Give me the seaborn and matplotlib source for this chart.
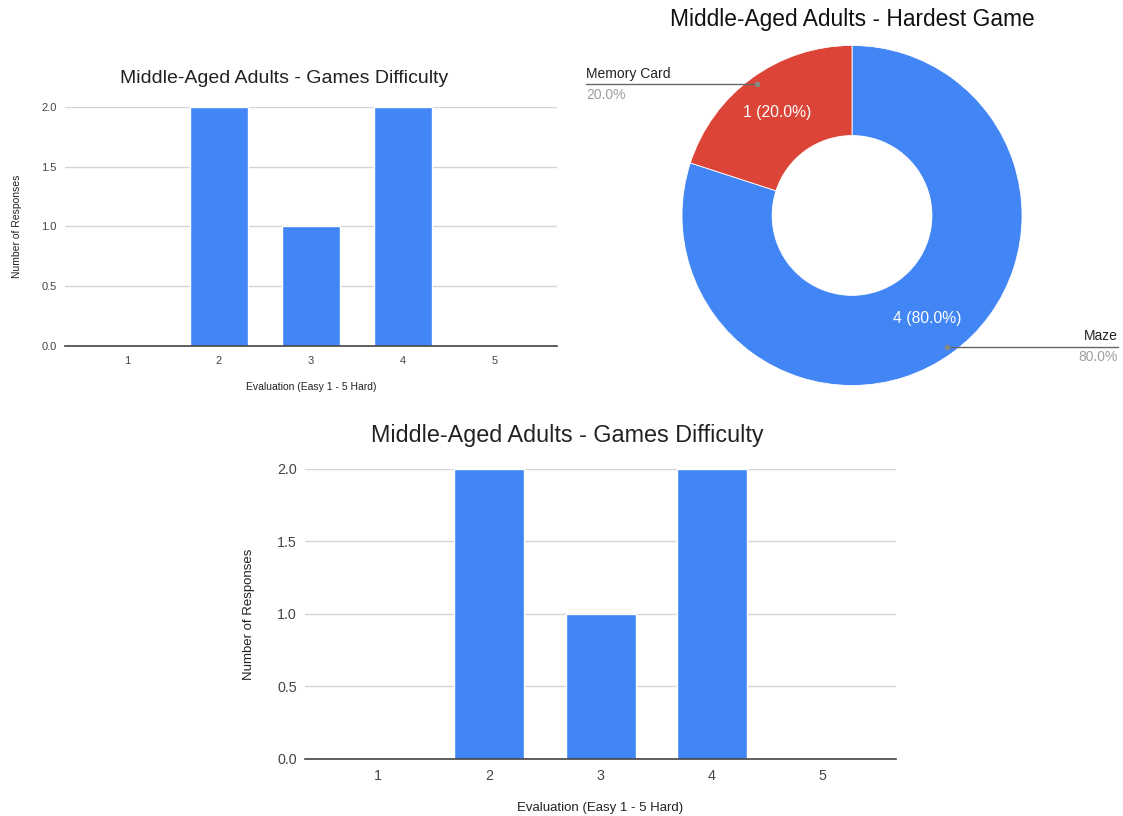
import numpy as np
import pandas as pd
import matplotlib
matplotlib.use('Agg')
import matplotlib.pyplot as plt
import seaborn as sns

# Data
ratings = ['1', '2', '3', '4', '5']
responses = [0, 2, 1, 2, 0]
games = ['Maze', 'Memory Card']
game_counts = [4, 1]

bar_title = 'Middle-Aged Adults - Games Difficulty'
pie_title = 'Middle-Aged Adults - Hardest Game'
x_label = 'Evaluation (Easy 1 - 5 Hard)'
y_label = 'Number of Responses'

blue = '#4285F4'
red = '#DB4437'

sns.set_theme(style='white')
plt.rcParams['font.family'] = ['Liberation Sans', 'DejaVu Sans']

df = pd.DataFrame({'rating': ratings, 'responses': responses})

fig = plt.figure(figsize=(11.23, 8.16), dpi=100)


def bar_panel(rect, xpad, title_xy, title_size, tick_size, label_size, xlabel_pad, ylabel_pad):
    ax = fig.add_axes(rect)
    sns.barplot(data=df, x='rating', y='responses', order=ratings, color=blue,
                width=0.63, saturation=1, ax=ax, zorder=3)
    ax.set_xlim(-xpad, len(ratings) - 1 + xpad)
    ax.set_ylim(0, 2.0)
    ax.set_yticks([0, 0.5, 1.0, 1.5, 2.0])
    ax.set_yticklabels(['0.0', '0.5', '1.0', '1.5', '2.0'])
    ax.yaxis.grid(True, color='#d6d6d6', lw=1, zorder=0)
    ax.xaxis.grid(False)
    for s in ['top', 'right', 'left']:
        ax.spines[s].set_visible(False)
    ax.spines['bottom'].set_color('#444444')
    ax.spines['bottom'].set_linewidth(1.2)
    ax.spines['bottom'].set_zorder(4)
    ax.tick_params(axis='both', length=0, labelsize=tick_size, labelcolor='#444444')
    ax.tick_params(axis='x', pad=7)
    ax.tick_params(axis='y', pad=6)
    ax.set_xlabel(x_label, fontsize=label_size, color='#222222', labelpad=xlabel_pad)
    ax.set_ylabel(y_label, fontsize=label_size, color='#222222', labelpad=ylabel_pad)
    fig.text(title_xy[0], title_xy[1], bar_title, ha='center', va='center',
             fontsize=title_size, color='#222222')
    return ax


# top-left and bottom bar charts
bar_panel([0.0579, 0.5760, 0.4381, 0.2929], 0.674, (0.2529, 0.9044), 14, 8, 7.5, 12, 14)
bar_panel([0.2716, 0.0699, 0.5263, 0.3554], 0.66, (0.5049, 0.4669), 16.8, 10.3, 9.5, 14, 16)

# donut chart
ax = fig.add_axes([0.6073, 0.5276, 0.3028, 0.4167])
total = sum(game_counts)
wedges, _, autotexts = ax.pie(
    game_counts, colors=[blue, red], startangle=90, counterclock=False,
    radius=1.0, pctdistance=0.75,
    autopct=lambda p: f'{round(p * total / 100):d} ({p:.1f}%)',
    wedgeprops=dict(width=0.53, edgecolor='white', linewidth=0.6),
    textprops=dict(color='white', fontsize=11.3))
ax.set_xlim(-1, 1)
ax.set_ylim(-1, 1)
ax.set_aspect('equal')
ax.axis('off')
fig.text(0.7587, 0.9755, pie_title, ha='center', va='center', fontsize=16.4, color='#111111')

for w, name, n in zip(wedges, games, game_counts):
    mid = np.deg2rad((w.theta1 + w.theta2) / 2)
    px, py = 0.955 * np.cos(mid), 0.955 * np.sin(mid)
    side = np.sign(px)
    xe = 1.565 * side
    ha = 'left' if side < 0 else 'right'
    ax.plot([px, xe], [py, py], color='#666666', lw=1, clip_on=False)
    ax.plot([px], [py], 'o', color='#888888', ms=3, clip_on=False)
    ax.text(xe, py + 0.02, name, ha=ha, va='bottom', fontsize=10, color='#222222')
    ax.text(xe, py - 0.02, f'{100 * n / total:.1f}%', ha=ha, va='top',
            fontsize=10, color='#9e9e9e')

fig.savefig('out.png', dpi=100, facecolor='white')
